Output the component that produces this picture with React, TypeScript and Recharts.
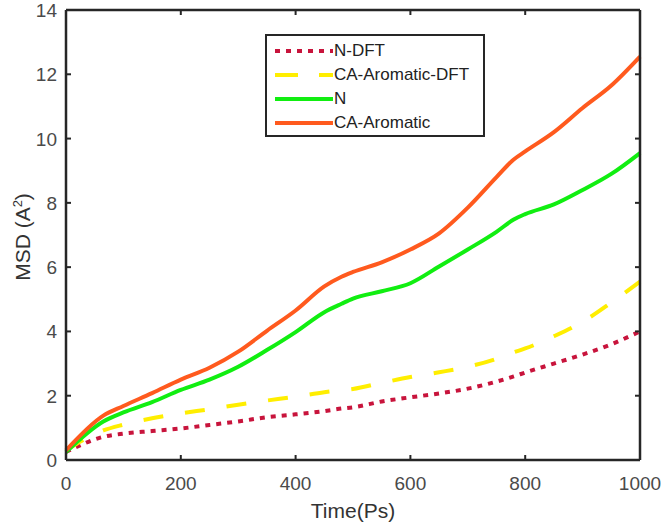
import { LineChart, Line, XAxis, YAxis } from 'recharts'

const time = [0, 65, 100, 150, 200, 250, 300, 350, 400, 450, 480, 500, 550, 600, 650, 700, 750, 780, 800, 850, 900, 950, 1000]
const nDft = [0.25, 0.72, 0.82, 0.9, 0.98, 1.09, 1.2, 1.33, 1.42, 1.52, 1.6, 1.64, 1.82, 1.95, 2.07, 2.22, 2.44, 2.6, 2.72, 3.0, 3.28, 3.6, 4.0]
const caAromaticDft = [0.3, 0.92, 1.1, 1.3, 1.45, 1.58, 1.72, 1.85, 1.97, 2.11, 2.17, 2.21, 2.4, 2.58, 2.73, 2.9, 3.15, 3.35, 3.47, 3.85, 4.3, 4.9, 5.55]
const nMd = [0.25, 1.2, 1.48, 1.8, 2.18, 2.5, 2.9, 3.42, 3.98, 4.6, 4.86, 5.02, 5.25, 5.5, 6.02, 6.55, 7.1, 7.48, 7.65, 7.95, 8.4, 8.9, 9.55]
const caAromatic = [0.3, 1.38, 1.68, 2.08, 2.5, 2.87, 3.37, 4.02, 4.65, 5.4, 5.7, 5.85, 6.15, 6.55, 7.05, 7.85, 8.8, 9.35, 9.6, 10.2, 10.95, 11.65, 12.55]

const xTicks = [0, 200, 400, 600, 800, 1000]
const yTicks = [0, 2, 4, 6, 8, 10, 12, 14]

const series = [
  { key: 'nDft', label: 'N-DFT', color: '#c8143c', dash: '5 6' },
  { key: 'caDft', label: 'CA-Aromatic-DFT', color: '#ffee00', dash: '20 22' },
  { key: 'n', label: 'N', color: '#11ee11', dash: undefined },
  { key: 'ca', label: 'CA-Aromatic', color: '#ff5a1e', dash: undefined },
]

const data = time.map((t, i) => ({
  t,
  nDft: nDft[i],
  caDft: caAromaticDft[i],
  n: nMd[i],
  ca: caAromatic[i],
}))

const FONT = '"Liberation Sans", Arial, sans-serif'
const AXIS = '#262626'
const LABEL = '#4a4a4a'
const tickLineStyle = { stroke: AXIS, strokeWidth: 2 }
const axisLineStyle = { stroke: AXIS, strokeWidth: 2.5 }

// text only; the tick marks come from the axis itself (negative tickSize = pointing inward)
const BottomLabel = (props: any) => {
  const { x, y, payload } = props
  return (
    <text x={x} y={y} textAnchor="middle" fontSize={19} fill={LABEL} fontFamily={FONT}>
      {payload.value}
    </text>
  )
}

const LeftLabel = (props: any) => {
  const { x, y, payload } = props
  return (
    <text x={x} y={y + 7} textAnchor="end" fontSize={19} fill={LABEL} fontFamily={FONT}>
      {payload.value}
    </text>
  )
}

const NoLabel = () => <g />

function LegendBox() {
  return (
    <div
      style={{
        position: 'absolute',
        left: 265,
        top: 34,
        width: 216,
        height: 99,
        border: `2.5px solid ${AXIS}`,
        background: '#fff',
        fontFamily: FONT,
        fontSize: 17,
        color: '#222',
        boxSizing: 'content-box',
      }}
    >
      {series.map((s, i) => (
        <div
          key={s.key}
          style={{ position: 'absolute', left: 6, top: 4 + i * 24, height: 22, display: 'flex', alignItems: 'center' }}
        >
          <svg width={60} height={22}>
            <line
              x1={2}
              x2={60}
              y1={11}
              y2={11}
              stroke={s.color}
              strokeWidth={4}
              strokeDasharray={s.key === 'caDft' ? '23 21' : s.dash}
            />
          </svg>
          <span style={{ marginLeft: 1, whiteSpace: 'nowrap' }}>{s.label}</span>
        </div>
      ))}
    </div>
  )
}

export default function App() {
  return (
    <div style={{ position: 'absolute', left: 0, top: 0, width: 664, height: 525, background: '#fff' }}>
      <LineChart width={664} height={525} data={data} margin={{ top: 9, right: 23, bottom: 35, left: 16 }}>
        <XAxis
          dataKey="t"
          type="number"
          domain={[0, 1000]}
          ticks={xTicks}
          height={30}
          tickSize={-5}
          tickMargin={35}
          tickLine={tickLineStyle}
          tick={<BottomLabel />}
          axisLine={axisLineStyle}
          interval={0}
        />
        <XAxis
          xAxisId="top"
          dataKey="t"
          orientation="top"
          type="number"
          domain={[0, 1000]}
          ticks={xTicks}
          height={1}
          tickSize={-5}
          tickMargin={0}
          tickLine={tickLineStyle}
          tick={<NoLabel />}
          axisLine={axisLineStyle}
          interval={0}
        />
        <YAxis
          type="number"
          domain={[0, 14]}
          ticks={yTicks}
          width={50}
          tickSize={-5}
          tickMargin={14}
          tickLine={tickLineStyle}
          tick={<LeftLabel />}
          axisLine={axisLineStyle}
          interval={0}
        />
        <YAxis
          yAxisId="right"
          orientation="right"
          type="number"
          domain={[0, 14]}
          ticks={yTicks}
          width={1}
          tickSize={-5}
          tickMargin={0}
          tickLine={tickLineStyle}
          tick={<NoLabel />}
          axisLine={axisLineStyle}
          interval={0}
        />
        {series.map((s) => (
          <Line
            key={s.key}
            dataKey={s.key}
            type="monotone"
            stroke={s.color}
            strokeWidth={4}
            strokeDasharray={s.dash}
            dot={false}
            activeDot={false}
            isAnimationActive={false}
          />
        ))}
        {/* invisible line so the top/right frame axes get drawn */}
        <Line
          xAxisId="top"
          yAxisId="right"
          dataKey="ca"
          stroke="none"
          dot={false}
          activeDot={false}
          legendType="none"
          isAnimationActive={false}
        />
      </LineChart>
      <div
        style={{
          position: 'absolute',
          left: 22,
          top: 237,
          transform: 'translate(-50%, -50%) rotate(-90deg)',
          fontFamily: FONT,
          fontSize: 21,
          color: '#333',
          whiteSpace: 'nowrap',
        }}
      >
        MSD (A<sup style={{ fontSize: 13 }}>2</sup>)
      </div>
      <div
        style={{
          position: 'absolute',
          left: 353,
          top: 511,
          transform: 'translate(-50%, -50%)',
          fontFamily: FONT,
          fontSize: 21,
          color: '#333',
          whiteSpace: 'nowrap',
        }}
      >
        Time(Ps)
      </div>
      <LegendBox />
    </div>
  )
}
